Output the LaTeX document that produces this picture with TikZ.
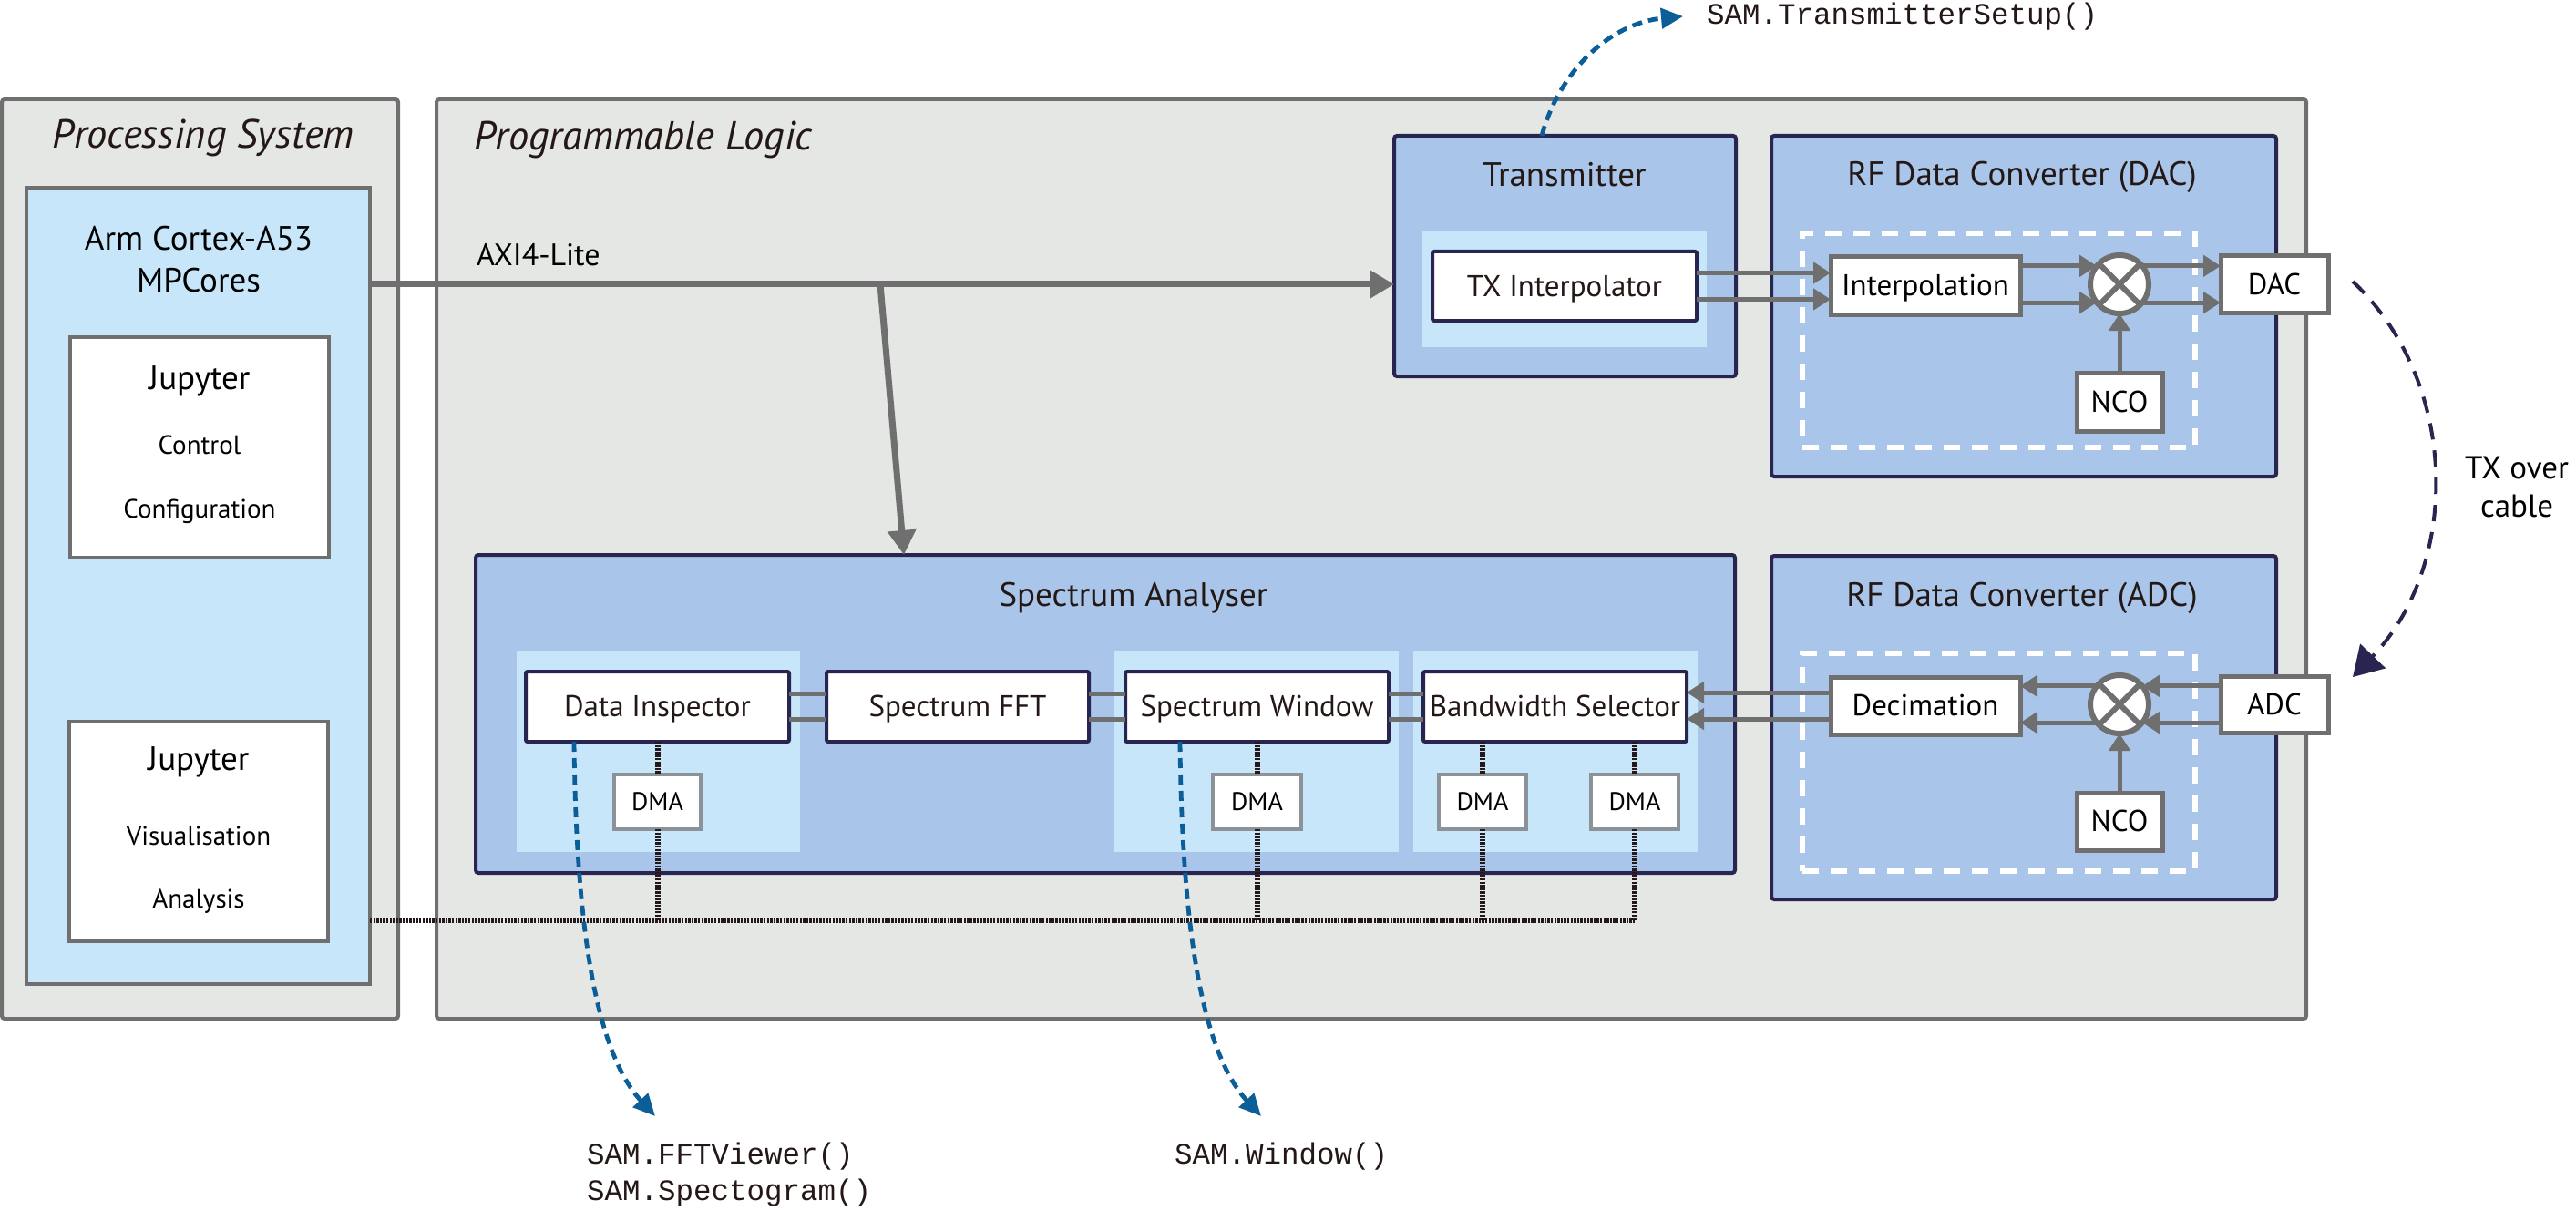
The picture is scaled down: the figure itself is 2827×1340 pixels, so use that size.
\documentclass[tikz,border=0pt]{standalone}
\usepackage{fontspec}
\setmainfont{PT Sans}
\newfontfamily\codefont{Liberation Mono}
\usetikzlibrary{arrows.meta,calc}
\definecolor{plbg}{HTML}{E5E7E5}
\definecolor{frame}{HTML}{6F6F6F}
\definecolor{lightblue}{HTML}{C8E6FA}
\definecolor{midblue}{HTML}{A9C6EA}
\definecolor{navy}{HTML}{282550}
\definecolor{ink}{HTML}{231815}
\definecolor{dmaframe}{HTML}{8C9398}
\definecolor{linkblue}{HTML}{0B5E98}
\definecolor{busdark}{HTML}{24181A}
% \blk{style}{name}{x1}{y1}{x2}{y2}{text}
\newcommand\blk[7]{\node[#1, anchor=north west, minimum width={#5-(#3)}, minimum height={#6-(#4)}] (#2) at (#3,#4) {#7};}
\begin{document}
\begin{tikzpicture}[x=1pt,y=-1pt,
  every node/.style={inner sep=0pt, outer sep=0pt},
  outerbox/.style={draw=frame, fill=plbg, line width=4pt, rounded corners=3pt},
  psblue/.style={draw=frame, fill=lightblue, line width=4pt},
  jupbox/.style={draw=frame, fill=white, line width=4pt},
  ipblock/.style={draw=navy, fill=midblue, line width=4pt, rounded corners=3pt},
  region/.style={fill=lightblue},
  modbox/.style={draw=navy, fill=white, line width=4pt, rounded corners=2pt, text=ink,
    font=\fontsize{33}{38}\selectfont, text height=22.5pt, text depth=0pt},
  rfbox/.style={draw=frame, fill=white, line width=5pt, text=black,
    font=\fontsize{33}{38}\selectfont, text height=22.5pt, text depth=0pt},
  dmabox/.style={draw=dmaframe, fill=white, line width=3.5pt, text=black,
    font=\fontsize{28}{34}\selectfont, text height=19.5pt, text depth=0pt},
  dashzone/.style={draw=white, line width=6pt, dash pattern=on 18pt off 13pt},
  mixer/.style={circle, draw=frame, fill=white, line width=6pt, minimum size=64pt},
  flow/.style={draw=frame, line width=5pt, -{Triangle[length=19pt,width=23pt]}},
  link/.style={draw=frame, line width=5pt},
  axiarrow/.style={draw=frame, line width=7pt, -{Triangle[length=27pt,width=30pt]}},
  bus/.style={draw=busdark, line width=6pt, dash pattern=on 2.4pt off 1.2pt},
  api/.style={draw=linkblue, line width=4.8pt, dash pattern=on 11pt off 7pt, -{Triangle[length=24pt,width=22pt]}},
  cable/.style={draw=navy, line width=4pt, dash pattern=on 18pt off 12pt, -{Triangle[length=32pt,width=38pt]}},
  sectitle/.style={font=\fontsize{44.5}{52}\selectfont\itshape, text=ink},
  title/.style={font=\fontsize{37}{44}\selectfont, text=ink, anchor=base},
  smalltxt/.style={font=\fontsize{29}{34}\selectfont, text=black, anchor=base},
  code/.style={font=\fontsize{32.5}{40}\selectfont\codefont, text=ink, anchor=base west},
]
\fill[white] (0,0) rectangle (2827,1340);
\useasboundingbox (0,0) rectangle (2827,1340);

% ---- outer systems
\blk{outerbox}{ps}{2}{109}{437}{1118}{}
\blk{outerbox}{pl}{479}{109}{2531}{1118}{}
\node[sectitle, anchor=base] (pstitle) at (223,163) {Processing System};
\node[sectitle, anchor=base west] (pltitle) at (520,165) {Programmable Logic};

% ---- processing system content
\blk{psblue}{psin}{29}{206}{406}{1080}{}
\node[title, text=black] (arm1) at (218,275) {Arm Cortex-A53};
\node[title, text=black] (arm2) at (218,320) {MPCores};
\blk{jupbox}{jup1}{77}{370}{361}{612}{}
\node[title, text=black] (j1a) at (219,427) {Jupyter};
\node[smalltxt] (j1b) at (219,498) {Control};
\node[smalltxt] (j1c) at (219,568) {Configuration};
\blk{jupbox}{jup2}{76}{792}{360}{1033}{}
\node[title, text=black] (j2a) at (218,845) {Jupyter};
\node[smalltxt] (j2b) at (218,927) {Visualisation};
\node[smalltxt] (j2c) at (218,996) {Analysis};

% ---- AXI
\node[title, text=black, anchor=base west, font=\fontsize{34}{40}\selectfont] (axilbl) at (523,292) {AXI4-Lite};
\coordinate (tap) at (966,312);

% ---- Transmitter
\blk{ipblock}{tx}{1530}{149}{1905}{413}{}
\node[title] (txtitle) at (1717,205) {Transmitter};
\blk{region}{txreg}{1561}{253}{1873}{381}{}
\blk{modbox}{txi}{1572}{276}{1862}{352}{TX Interpolator}

% ---- RF DAC
\blk{ipblock}{rfdac}{1944}{149}{2498}{523}{}
\node[title] (dactitle) at (2219,204) {RF Data Converter (DAC)};
\blk{dashzone}{dz1}{1978}{256}{2409}{491}{}
\blk{rfbox}{interp}{2009}{282}{2217}{345}{Interpolation}
\node[mixer] (mx1) at (2326,312) {};
\draw[frame, line width=6pt] (mx1.45) -- (mx1.225) (mx1.135) -- (mx1.315);
\blk{rfbox}{dac}{2437}{281}{2555}{343}{DAC}
\blk{rfbox}{nco1}{2279}{409}{2373}{473}{NCO}

% ---- RF ADC
\blk{ipblock}{rfadc}{1944}{610}{2498}{987}{}
\node[title] (adctitle) at (2219,665) {RF Data Converter (ADC)};
\blk{dashzone}{dz2}{1978}{717}{2409}{956}{}
\blk{rfbox}{dec}{2009}{743}{2217}{806}{Decimation}
\node[mixer] (mx2) at (2326,773) {};
\draw[frame, line width=6pt] (mx2.45) -- (mx2.225) (mx2.135) -- (mx2.315);
\blk{rfbox}{adc}{2437}{742}{2555}{804}{ADC}
\blk{rfbox}{nco2}{2279}{870}{2373}{933}{NCO}

% ---- Spectrum Analyser
\blk{ipblock}{sa}{522}{609}{1904}{958}{}
\node[title] (satitle) at (1244,665) {Spectrum Analyser};
\blk{region}{direg}{567}{714}{878}{935}{}
\blk{region}{swreg}{1223}{714}{1535}{935}{}
\blk{region}{bsreg}{1551}{714}{1863}{935}{}
\blk{modbox}{di}{577}{737}{866}{814}{Data Inspector}
\blk{modbox}{fft}{907}{737}{1195}{814}{Spectrum FFT}
\blk{modbox}{sw}{1235}{737}{1524}{814}{Spectrum Window}
\blk{modbox}{bs}{1562}{737}{1851}{814}{Bandwidth Selector}
\blk{dmabox}{dma1}{674}{850}{769}{910}{DMA}
\blk{dmabox}{dma2}{1331}{850}{1428}{910}{DMA}
\blk{dmabox}{dma3}{1579}{850}{1675}{910}{DMA}
\blk{dmabox}{dma4}{1746}{850}{1842}{910}{DMA}

% ---- AXI connectors
\draw[axiarrow] (psin.east |- tap) -- (tx.west |- tap);
\draw[axiarrow] (tap) -- ([xshift=470pt]sa.north west);

% ---- TX path
\draw[flow] ([yshift=14.5pt]txi.east) -- ([yshift=14.5pt]txi.east -| interp.west);
\draw[flow] ([yshift=-14.5pt]txi.east) -- ([yshift=-14.5pt]txi.east -| interp.west);
\draw[flow] (interp.east |- mx1.141) -- (mx1.141);
\draw[flow] (interp.east |- mx1.219) -- (mx1.219);
\draw[flow] (mx1.39) -- (mx1.39 -| dac.west);
\draw[flow] (mx1.321) -- (mx1.321 -| dac.west);
\draw[flow] (nco1.north) -- (mx1.south);

% ---- RX path
\draw[flow] (adc.west |- mx2.39) -- (mx2.39);
\draw[flow] (adc.west |- mx2.321) -- (mx2.321);
\draw[flow] (mx2.141) -- (mx2.141 -| dec.east);
\draw[flow] (mx2.219) -- (mx2.219 -| dec.east);
\draw[flow] (nco2.north) -- (mx2.south);
\draw[flow] ([yshift=14.5pt]dec.west) -- ([yshift=14.5pt]dec.west -| bs.east);
\draw[flow] ([yshift=-14.5pt]dec.west) -- ([yshift=-14.5pt]dec.west -| bs.east);

% ---- module links
\draw[link] ([yshift=14.5pt]di.east) -- ([yshift=14.5pt]di.east -| fft.west);
\draw[link] ([yshift=-13.5pt]di.east) -- ([yshift=-13.5pt]di.east -| fft.west);
\draw[link] ([yshift=14.5pt]fft.east) -- ([yshift=14.5pt]fft.east -| sw.west);
\draw[link] ([yshift=-13.5pt]fft.east) -- ([yshift=-13.5pt]fft.east -| sw.west);
\draw[link] ([yshift=14.5pt]sw.east) -- ([yshift=14.5pt]sw.east -| bs.west);
\draw[link] ([yshift=-13.5pt]sw.east) -- ([yshift=-13.5pt]sw.east -| bs.west);

% ---- DMA bus
\coordinate (busy) at (0,1010);
\draw[bus] (di.south -| dma1.north) -- (dma1.north);
\draw[bus] (sw.south -| dma2.north) -- (dma2.north);
\draw[bus] (bs.south -| dma3.north) -- (dma3.north);
\draw[bus] (bs.south -| dma4.north) -- (dma4.north);
\draw[bus] (dma1.south) -- (dma1.south |- busy);
\draw[bus] (dma2.south) -- (dma2.south |- busy);
\draw[bus] (dma3.south) -- (dma3.south |- busy);
\draw[bus] (dma4.south) -- (dma4.south |- busy);
\draw[bus] (psin.east |- busy) -- (dma4.south |- busy);

% ---- cable
\coordinate (cabA) at (2582,309);
\coordinate (cabB) at (2582,743);
\draw[cable] (cabA) .. controls (2700,420) and (2700,620) .. (cabB);
\node[title, text=black, font=\fontsize{35}{42}\selectfont] (cab1) at (2762,525) {TX over};
\node[title, text=black, font=\fontsize{35}{42}\selectfont] (cab2) at (2762,567) {cable};

% ---- API calls
\node[code] (apitx) at (1873,27) {SAM.TransmitterSetup()};
\node[code] (apifft) at (644,1277) {SAM.FFTViewer()};
\node[code] (apispec) at (644,1317) {SAM.Spectogram()};
\node[code] (apiwin) at (1289,1277) {SAM.Window()};
\coordinate (txend) at (1847,18);
\coordinate (diend) at (719,1225);
\coordinate (swend) at (1384,1225);
\draw[api] ([xshift=162pt]tx.north west) .. controls (1712,75) and (1770,25) .. (txend);
\draw[api] ([xshift=53pt]di.south west) .. controls (632,1000) and (650,1150) .. (diend);
\draw[api] ([xshift=60pt]sw.south west) .. controls (1297,1000) and (1315,1150) .. (swend);
\end{tikzpicture}
\end{document}
